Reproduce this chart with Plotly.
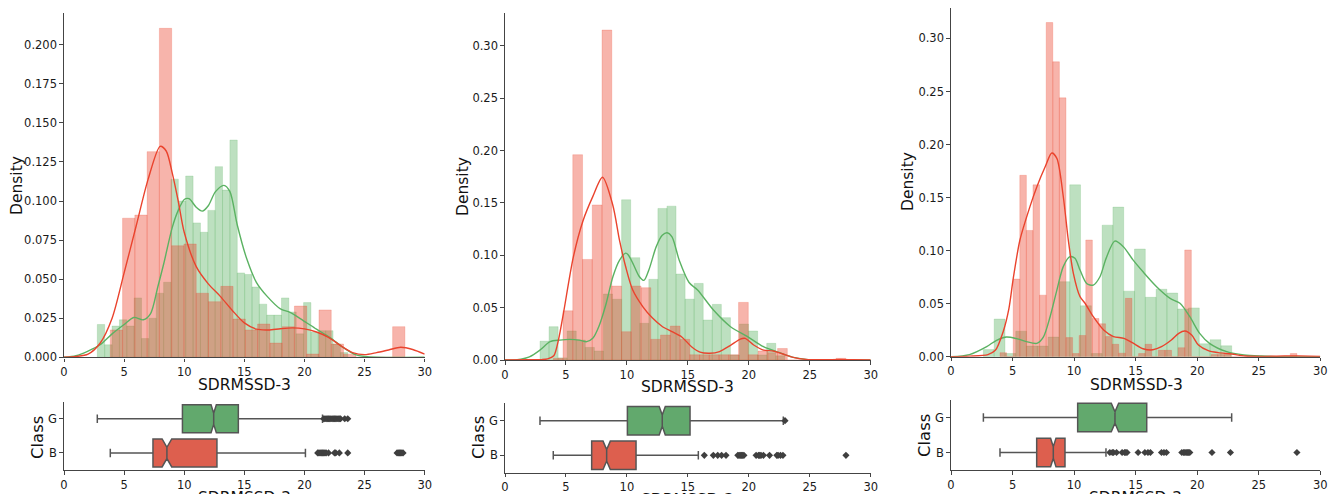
import plotly.graph_objects as go

# page body has an 8px margin; the figure is sized to fit the 1340x494 window
OFF = 8
W, H = 1340 - OFF, 494 - OFF

# ---------------- data ----------------
# Panel 1 histograms (density), bins: start, width, heights
P1_G_START, P1_G_WIDTH = 2.77, 0.6127
P1_G_DENS = [0.021, 0.008, 0.020, 0.024, 0.020, 0.038, 0.012, 0.025, 0.041, 0.048,
             0.114, 0.100, 0.116, 0.086, 0.080, 0.094, 0.122, 0.107, 0.139, 0.054,
             0.053, 0.045, 0.034, 0.027, 0.027, 0.038, 0.029, 0.015, 0.035, 0.016,
             0.017, 0.017, 0.0085, 0.003]
P1_R_START, P1_R_WIDTH = 3.85, 1.021
P1_R_DENS = [0.0175, 0.089, 0.091, 0.1316, 0.2105, 0.0714, 0.0725, 0.041, 0.0356, 0.0454,
             0.0245, 0.0175, 0.0213, 0.0091, 0.0196, 0.0328, 0.0021, 0.0303, 0.0085, 0.002,
             0.0, 0.0, 0.0, 0.0196]
P1_G_KDE_X = [0, 1, 2, 3, 4, 5, 5.8, 6.6, 7.2, 7.8, 8.3, 9, 9.5, 10.0, 10.4, 11, 11.5, 12,
              12.6, 13.3, 13.8, 14.4, 15.2, 16, 16.9, 18, 18.8, 19.9, 21, 22.1, 23.2, 24.3,
              25, 26, 30]
P1_G_KDE_Y = [0, 0.001, 0.004, 0.008, 0.015, 0.021, 0.0255, 0.024, 0.028, 0.045, 0.060,
              0.083, 0.094, 0.101, 0.1015, 0.096, 0.0935, 0.097, 0.106, 0.110, 0.106, 0.085,
              0.063, 0.048, 0.039, 0.031, 0.0288, 0.0235, 0.018, 0.0128, 0.0064, 0.0015,
              0.0006, 0.0001, 0]
P1_R_KDE_X = [0, 1, 2, 3, 4, 5, 6, 7, 8, 8.5, 9, 9.5, 10, 11, 12, 13, 14, 15, 16, 17, 18,
              19, 20, 21, 22, 23, 24, 25, 26, 27, 28, 29, 30]
P1_R_KDE_Y = [0.0, 0.0005, 0.002, 0.009, 0.025, 0.054, 0.084, 0.114, 0.135, 0.132, 0.118,
              0.100, 0.080, 0.058, 0.047, 0.039, 0.030, 0.022, 0.018, 0.0175, 0.0183,
              0.0188, 0.0182, 0.0162, 0.0128, 0.0075, 0.003, 0.0017, 0.003, 0.0047,
              0.0064, 0.005, 0.002]

# Panel 2
P2_G_START, P2_G_WIDTH = 2.87, 0.744
P2_G_DENS = [0.018, 0.0318, 0.002, 0.0277, 0.019, 0.012, 0.0086, 0.063, 0.058, 0.153,
             0.0977, 0.035, 0.077, 0.1447, 0.1469, 0.0821, 0.0581, 0.0731, 0.0382, 0.0531,
             0.0404, 0.0048, 0.0343, 0.0277, 0.0048, 0.0159, 0.004]
P2_R_START, P2_R_WIDTH = 3.96, 0.80
P2_R_DENS = [0.0016, 0.047, 0.196, 0.096, 0.148, 0.315, 0.0706, 0.027, 0.0706, 0.069,
             0.0197, 0.0238, 0.0324, 0.0197, 0.005, 0.005, 0.005, 0.005, 0.005, 0.055,
             0.005, 0.0086, 0.007, 0.011, 0.0, 0.0, 0.0, 0.0, 0.0, 0.0016]
P2_G_KDE_X = [0, 1, 2, 2.87, 3.7, 4.5, 5.3, 6.1, 6.7, 7.2, 7.7, 8.3, 8.85, 9.4, 9.9, 10.1,
              10.5, 11.0, 11.4, 11.8, 12.4, 12.9, 13.3, 13.7, 14.3, 15.1, 15.8, 17.1, 18.5,
              19.9, 21.2, 22.6, 23.65, 24.7, 26, 30]
P2_G_KDE_Y = [0, 0.0003, 0.003, 0.0095, 0.0175, 0.019, 0.0197, 0.019, 0.0175, 0.0207,
              0.032, 0.054, 0.0795, 0.0954, 0.102, 0.1005, 0.092, 0.080, 0.076, 0.0859,
              0.108, 0.119, 0.1215, 0.1175, 0.095, 0.074, 0.0668, 0.0477, 0.0318, 0.0223,
              0.0127, 0.0067, 0.0025, 0.0006, 0.0001, 0]
P2_R_KDE_X = [0, 2, 3, 3.5, 4, 4.4, 4.8, 5.6, 6.4, 7.2, 8.0, 8.84, 9.4, 9.9, 10.47, 11.3,
              12.1, 12.9, 13.7, 14.5, 15.3, 16, 16.8, 17.6, 18.5, 19.3, 19.7, 20.4, 21.2,
              22, 22.8, 23.65, 24.7, 26, 27.5, 28.5, 30]
P2_R_KDE_Y = [0, 0.0002, 0.0004, 0.001, 0.004, 0.02, 0.045, 0.098, 0.133, 0.156, 0.1745,
              0.148, 0.114, 0.089, 0.067, 0.051, 0.040, 0.032, 0.027, 0.022, 0.0127,
              0.0075, 0.0064, 0.008, 0.014, 0.020, 0.0207, 0.0143, 0.0095, 0.0086, 0.0057,
              0.0025, 0.0006, 0.0003, 0.0005, 0.0003, 0]

# Panel 3
P3_G_START, P3_G_WIDTH = 2.63, 0.877
P3_G_DENS = [0.0067, 0.0355, 0.003, 0.024, 0.010, 0.010, 0.0185, 0.0707, 0.162, 0.048,
             0.003, 0.124, 0.141, 0.0618, 0.1015, 0.056, 0.0636, 0.060, 0.045, 0.046,
             0.0122, 0.016, 0.0103]
P3_R_START, P3_R_WIDTH = 3.98, 0.536
P3_R_DENS = [0.0038, 0.0, 0.0732, 0.171, 0.119, 0.162, 0.058, 0.315, 0.278, 0.244,
             0.018, 0.003, 0.020, 0.110, 0.036, 0.031, 0.019, 0.0117, 0.0033, 0.055,
             0.0, 0.003, 0.0117, 0.0, 0.006, 0.006, 0.0, 0.0085, 0.1006, 0.0,
             0.0, 0.0, 0.002, 0.002, 0.002, 0.0, 0.0, 0.0, 0.0, 0.0,
             0.0, 0.0, 0.0, 0.0, 0.003]
P3_G_KDE_X = [0, 1.5, 2.9, 3.7, 4.5, 5.33, 6.14, 6.97, 7.5, 8.05, 8.6, 9.12, 9.66, 10.07,
              10.48, 11.02, 11.56, 12.1, 12.6, 13.3, 14.0, 14.8, 15.6, 16.7, 17.8, 18.6,
              19.4, 20.2, 21.0, 22.4, 23.8, 25.2, 27, 30]
P3_G_KDE_Y = [0, 0.002, 0.0095, 0.0155, 0.0185, 0.017, 0.0142, 0.0126, 0.0185, 0.0377,
              0.0628, 0.0849, 0.0943, 0.0927, 0.0817, 0.069, 0.0675, 0.0754, 0.0927, 0.109,
              0.1037, 0.091, 0.080, 0.066, 0.055, 0.0503, 0.0377, 0.022, 0.0126, 0.0047,
              0.0016, 0.0006, 0.0001, 0]
P3_R_KDE_X = [0, 1.5, 3, 3.6, 4.25, 4.7, 5.06, 5.6, 6.4, 6.97, 7.65, 8.19, 8.6, 9.12, 9.53,
              9.94, 10.48, 10.89, 11.56, 12.4, 13.2, 14.05, 14.8, 15.6, 16.4, 17.1, 17.9,
              18.5, 19.0, 19.55, 20.1, 20.9, 21.7, 22.8, 23.9, 25.5, 27.1, 28.2, 30]
P3_R_KDE_Y = [0, 0.0005, 0.002, 0.006, 0.024, 0.045, 0.074, 0.110, 0.141, 0.160, 0.179,
              0.192, 0.187, 0.151, 0.110, 0.0786, 0.0566, 0.0504, 0.0377, 0.0252, 0.019,
              0.0173, 0.0127, 0.0075, 0.0065, 0.0094, 0.0157, 0.022, 0.0242, 0.0204, 0.011,
              0.0057, 0.0038, 0.0025, 0.0006, 0.0003, 0.0006, 0.0006, 0.0003]

# Box plot statistics: [lowerfence, q1, median, q3, upperfence, notchspan]
P1_G_BOX = [2.77, 9.85, 12.45, 14.5, 21.5, 0.22]
P1_B_BOX = [3.85, 7.4, 8.56, 12.72, 20.08, 0.4]
P2_G_BOX = [2.87, 10.04, 12.9, 15.18, 22.83, 0.25]
P2_B_BOX = [3.96, 7.11, 8.34, 10.75, 15.86, 0.3]
P3_G_BOX = [2.63, 10.29, 13.32, 15.9, 22.8, 0.3]
P3_B_BOX = [3.98, 6.96, 8.31, 9.26, 12.59, 0.22]

P1_G_OUT = [21.6, 21.7, 21.8, 21.9, 22.0, 22.1, 22.2, 22.3, 22.4, 22.5, 22.6, 22.7, 22.8,
            22.9, 23.0, 23.35, 23.6]
P1_B_OUT = [21.1, 21.2, 21.3, 21.4, 21.5, 21.6, 21.7, 21.8, 22.0, 22.5, 22.6, 22.9, 23.6,
            27.7, 27.8, 27.9, 28.0, 28.1, 28.2]
P2_G_OUT = [22.97]
P2_B_OUT = [16.35, 17.09, 17.45, 17.77, 18.13, 19.1, 19.2, 19.3, 19.4, 19.5, 19.6, 20.6,
            20.8, 20.9, 21.0, 21.2, 21.7, 22.3, 22.4, 22.6, 22.8, 27.97]
P3_G_OUT = []
P3_B_OUT = [12.9, 13.1, 13.2, 13.45, 13.9, 14.1, 14.2, 14.3, 15.2, 15.75, 16.0, 16.2,
            17.1, 17.3, 17.5, 18.75, 18.9, 19.0, 19.1, 19.2, 19.3, 19.4, 21.2, 22.7, 28.1]

X_TICKS = [0, 5, 10, 15, 20, 25, 30]
P1_Y_TICKS = [0.0, 0.025, 0.05, 0.075, 0.1, 0.125, 0.15, 0.175, 0.2]
P23_Y_TICKS = [0.0, 0.05, 0.10, 0.15, 0.20, 0.25, 0.30]
CLASSES = ["B", "G"]
X_LABEL = "SDRMSSD-3"
Y_LABEL = "Density"
BOX_Y_LABEL = "Class"

# ---------------- styling ----------------
GREEN = (91, 178, 98)
RED = (234, 67, 45)
G_BOX_FILL = "#62a96d"
R_BOX_FILL = "#dd5f4e"
SPINE = "#444444"
FONT = "DejaVu Sans"


def rgba(c, a):
    return f"rgba({c[0]},{c[1]},{c[2]},{a})"


def px2x(px):
    return min(1.0, max(0.0, (px - OFF) / W))


def px2y(py):
    return min(1.0, max(0.0, 1 - (py - OFF) / H))


def px2x_free(px):
    return (px - OFF) / W


def px2y_free(py):
    return 1 - (py - OFF) / H


fig = go.Figure()

panels = [
    dict(gs=P1_G_START, gw=P1_G_WIDTH, gd=P1_G_DENS, rs=P1_R_START, rw=P1_R_WIDTH, rd=P1_R_DENS,
         gkx=P1_G_KDE_X, gky=P1_G_KDE_Y, rkx=P1_R_KDE_X, rky=P1_R_KDE_Y,
         gbox=P1_G_BOX, bbox=P1_B_BOX, gout=P1_G_OUT, bout=P1_B_OUT,
         xl=64, xr=424.7, ht=13, hb=357.3, bt=401.7, bb=470, yr=0.2203, yt=P1_Y_TICKS, yf=".3f",
         dens_pos=(17, 186), xlab=(244, 385), cls=(37, 437), box_lab_y=498),
    dict(gs=P2_G_START, gw=P2_G_WIDTH, gd=P2_G_DENS, rs=P2_R_START, rw=P2_R_WIDTH, rd=P2_R_DENS,
         gkx=P2_G_KDE_X, gky=P2_G_KDE_Y, rkx=P2_R_KDE_X, rky=P2_R_KDE_Y,
         gbox=P2_G_BOX, bbox=P2_B_BOX, gout=P2_G_OUT, bout=P2_B_OUT,
         xl=505, xr=870.7, ht=13.3, hb=360, bt=403.3, bb=472.7, yr=0.331, yt=P23_Y_TICKS, yf=".2f",
         dens_pos=(463, 187), xlab=(687, 387), cls=(478, 438), box_lab_y=500),
    dict(gs=P3_G_START, gw=P3_G_WIDTH, gd=P3_G_DENS, rs=P3_R_START, rw=P3_R_WIDTH, rd=P3_R_DENS,
         gkx=P3_G_KDE_X, gky=P3_G_KDE_Y, rkx=P3_R_KDE_X, rky=P3_R_KDE_Y,
         gbox=P3_G_BOX, bbox=P3_B_BOX, gout=P3_G_OUT, bout=P3_B_OUT,
         xl=951, xr=1320.3, ht=8, hb=356.7, bt=400, bb=470, yr=0.3287, yt=P23_Y_TICKS, yf=".2f",
         dens_pos=(908, 182), xlab=(1136, 385), cls=(924, 436), box_lab_y=498),
]

layout = dict(
    width=W, height=H, margin=dict(l=0, r=0, t=0, b=0, autoexpand=False),
    paper_bgcolor="white", plot_bgcolor="white", showlegend=False,
    barmode="overlay", font=dict(family=FONT, size=11, color="#222222"),
)

annotations = []

axis_common = dict(showgrid=False, zeroline=False, showline=True, linecolor=SPINE,
                   linewidth=1.4, ticks="outside", ticklen=3.5, tickwidth=1,
                   tickcolor=SPINE, automargin=False,
                   tickfont=dict(family=FONT, size=11.5, color="#1a1a1a"))

for i, p in enumerate(panels):
    hx = f"x{2 * i + 1}" if i > 0 else "x"
    hy = f"y{2 * i + 1}" if i > 0 else "y"
    bx = f"x{2 * i + 2}"
    by = f"y{2 * i + 2}"
    hxk = "xaxis" + ("" if i == 0 else str(2 * i + 1))
    hyk = "yaxis" + ("" if i == 0 else str(2 * i + 1))
    bxk = "xaxis" + str(2 * i + 2)
    byk = "yaxis" + str(2 * i + 2)

    # histogram bars
    for start, width, dens, col in [(p["gs"], p["gw"], p["gd"], GREEN),
                                    (p["rs"], p["rw"], p["rd"], RED)]:
        centers = [start + width * (k + 0.5) for k in range(len(dens))]
        fig.add_trace(go.Bar(
            x=centers, y=dens, width=[width] * len(dens), xaxis=hx, yaxis=hy,
            marker=dict(color=rgba(col, 0.4), line=dict(color=rgba(col, 0.35), width=0.6)),
            hoverinfo="skip"))
    # KDE curves
    for kx, ky, col in [(p["gkx"], p["gky"], GREEN), (p["rkx"], p["rky"], RED)]:
        fig.add_trace(go.Scatter(
            x=kx, y=ky, mode="lines", xaxis=hx, yaxis=hy,
            line=dict(color=rgba(col, 1), width=1.4, shape="spline", smoothing=0.8),
            hoverinfo="skip"))

    # box plots
    for cls, stats, fill in [("G", p["gbox"], G_BOX_FILL), ("B", p["bbox"], R_BOX_FILL)]:
        lf, q1, med, q3, uf, ns = stats
        fig.add_trace(go.Box(
            y=[cls], q1=[q1], median=[med], q3=[q3], lowerfence=[lf], upperfence=[uf],
            notchspan=[ns], notched=True, notchwidth=0.3, orientation="h",
            xaxis=bx, yaxis=by, fillcolor=fill,
            line=dict(color="#555555", width=1.5), width=0.82, whiskerwidth=0.3,
            boxpoints=False, hoverinfo="skip"))
    for cls, outs in [("G", p["gout"]), ("B", p["bout"])]:
        if outs:
            fig.add_trace(go.Scatter(
                x=outs, y=[cls] * len(outs), mode="markers", xaxis=bx, yaxis=by,
                marker=dict(symbol="diamond", size=5.5, color="#3f3f3f",
                            line=dict(width=0)),
                hoverinfo="skip"))

    xdom = [px2x(p["xl"]), px2x(p["xr"])]
    layout[hxk] = dict(axis_common, domain=xdom, range=[0, 30], tickvals=X_TICKS,
                       anchor=hy)
    layout[hyk] = dict(axis_common, domain=[px2y(p["hb"]), px2y(p["ht"])],
                       range=[0, p["yr"]], tickvals=p["yt"], tickformat=p["yf"],
                       anchor=hx)
    layout[bxk] = dict(axis_common, domain=xdom, range=[0, 30], tickvals=X_TICKS,
                       anchor=by)
    layout[byk] = dict(axis_common, domain=[px2y(p["bb"]), px2y(p["bt"])],
                       type="category", categoryorder="array", categoryarray=CLASSES,
                       range=[-0.5, 1.5], anchor=bx)

    annotations += [
        dict(text=Y_LABEL, x=px2x_free(p["dens_pos"][0]), y=px2y_free(p["dens_pos"][1]),
             textangle=-90, font=dict(size=15.5, family=FONT, color="#111111")),
        dict(text=X_LABEL, x=px2x_free(p["xlab"][0]), y=px2y_free(p["xlab"][1]),
             font=dict(size=15.5, family=FONT, color="#111111")),
        dict(text=BOX_Y_LABEL, x=px2x_free(p["cls"][0]), y=px2y_free(p["cls"][1]),
             textangle=-90, font=dict(size=16.5, family=FONT, color="#111111")),
        dict(text=X_LABEL, x=px2x_free((p["xl"] + p["xr"]) / 2),
             y=px2y_free(p["box_lab_y"]),
             font=dict(size=15.5, family=FONT, color="#111111")),
    ]

for a in annotations:
    a.update(xref="paper", yref="paper", showarrow=False, xanchor="center",
             yanchor="middle")
layout["annotations"] = annotations

fig.update_layout(**layout)
fig.write_html("out.html")
